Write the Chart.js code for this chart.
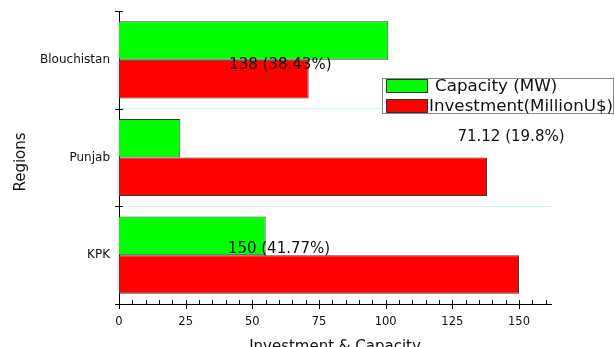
<!DOCTYPE html>
<html lang="en">
<head>
  <meta charset="UTF-8">
  <title>Investment &amp; Capacity by Region</title>
  <style>
    html, body {
      margin: 0;
      padding: 0;
      background: #ffffff;
      overflow: hidden;
    }
    #regionChart {
      display: block;
    }
  </style>
</head>
<body>
  <canvas id="regionChart" width="615" height="347"></canvas>

  <script src="https://cdn.jsdelivr.net/npm/chart.js"></script>
  <script>
    const regions = ['Blouchistan', 'Punjab', 'KPK'];
    const capacityMW = [101, 23, 55];
    const investmentMUSD = [71.12, 138, 150];
    const xTicks = [0, 25, 50, 75, 100, 125, 150];

    const FONT = '"DejaVu Sans", Verdana, sans-serif';
    const totalInvestment = investmentMUSD.reduce((a, b) => a + b, 0);

    function shareLabel(i) {
      const v = investmentMUSD[i];
      const pct = parseFloat((v / totalInvestment * 100).toFixed(2));
      return v + ' (' + pct + '%)';
    }

    // where each investment note sits: which value, which row, x in data units, offset from row centre
    const notes = [
      { src: 1, row: 0, x: 60.5, dy: 5 },
      { src: 0, row: 1, x: 147, dy: -20 },
      { src: 2, row: 2, x: 60, dy: -6 }
    ];

    // axis ticks, titles, value notes and the boxed legend
    const decorations = {
      id: 'decorations',
      afterDraw(chart) {
        const ctx = chart.ctx;
        const xs = chart.scales.x;
        const ys = chart.scales.y;
        const area = chart.chartArea;

        ctx.save();
        ctx.strokeStyle = '#000';
        ctx.lineWidth = 1;

        // x axis ticks every 5, longer ones at labelled values
        for (let v = 0; v <= xs.max; v += 5) {
          const px = Math.round(xs.getPixelForValue(v)) + 0.5;
          const major = v % 25 === 0;
          ctx.beginPath();
          ctx.moveTo(px, area.bottom - 4);
          ctx.lineTo(px, area.bottom + (major ? 5 : 0));
          ctx.stroke();
        }

        // y axis ticks at the category boundaries
        const step = (area.bottom - area.top) / regions.length;
        for (let i = 0; i <= regions.length; i++) {
          const py = Math.round(area.top + i * step) + 0.5;
          ctx.beginPath();
          ctx.moveTo(area.left - 4, py);
          ctx.lineTo(area.left + 4, py);
          ctx.stroke();
        }

        // value notes
        ctx.fillStyle = '#111';
        ctx.font = '15px ' + FONT;
        ctx.textAlign = 'center';
        ctx.textBaseline = 'middle';
        notes.forEach(n => {
          const px = xs.getPixelForValue(n.x);
          const py = ys.getPixelForValue(n.row) + n.dy;
          ctx.fillText(shareLabel(n.src), px, py);
        });

        // axis titles
        ctx.font = '15px ' + FONT;
        ctx.textBaseline = 'alphabetic';
        ctx.fillText('Investment & Capacity', 335, 351);
        ctx.save();
        ctx.translate(25, 162);
        ctx.rotate(-Math.PI / 2);
        ctx.fillText('Regions', 0, 0);
        ctx.restore();

        // legend box
        const lx = 382, ly = 78, lw = 232, lh = 36;
        ctx.fillStyle = '#ffffff';
        ctx.fillRect(lx, ly, lw, lh);
        ctx.strokeStyle = '#8a8a8a';
        ctx.strokeRect(lx + 0.5, ly + 0.5, lw - 1, lh - 1);
        const textX = [435, 429];
        ctx.textBaseline = 'middle';
        chart.data.datasets.forEach((ds, i) => {
          const sy = ly + 1 + i * 20;
          ctx.fillStyle = ds.backgroundColor;
          ctx.fillRect(386, sy, 42, 14);
          ctx.strokeStyle = '#333';
          ctx.strokeRect(386.5, sy + 0.5, 41, 13);
          ctx.fillStyle = '#111';
          ctx.font = '16.7px ' + FONT;
          ctx.textAlign = 'left';
          ctx.fillText(ds.label, textX[i], sy + 8);
        });
        ctx.restore();
      }
    };

    new Chart(document.getElementById('regionChart'), {
      type: 'bar',
      data: {
        labels: regions,
        datasets: [
          {
            label: 'Capacity (MW)',
            data: capacityMW,
            backgroundColor: '#00ff00',
            borderColor: '#3a3a3a',
            borderWidth: 1
          },
          {
            label: 'Investment(MillionU$)',
            data: investmentMUSD,
            backgroundColor: '#ff0000',
            borderColor: '#3a3a3a',
            borderWidth: 1
          }
        ]
      },
      options: {
        indexAxis: 'y',
        responsive: false,
        animation: false,
        events: [],
        categoryPercentage: 0.79,
        barPercentage: 1,
        layout: { padding: { top: 11, right: 64, left: 0, bottom: 0 } },
        plugins: {
          legend: { display: false },
          tooltip: { enabled: false }
        },
        scales: {
          x: {
            min: 0,
            max: 162,
            afterBuildTicks: scale => {
              scale.ticks = xTicks.map(v => ({ value: v }));
            },
            afterFit: scale => { scale.height = 43; },
            grid: { display: false },
            border: { display: true, color: '#000', width: 1 },
            ticks: {
              padding: 3,
              color: '#111',
              font: { family: FONT, size: 11.5 }
            }
          },
          y: {
            afterFit: scale => {
              scale.width = 119;
              scale.paddingTop = 0;
              scale.paddingBottom = 0;
            },
            grid: {
              offset: true,
              drawTicks: false,
              color: ctx => (ctx.index === 0 || ctx.index === regions.length) ? 'rgba(0,0,0,0)' : '#c6f3f8',
              lineWidth: 1
            },
            border: { display: true, color: '#000', width: 1 },
            ticks: {
              padding: 9,
              color: '#111',
              font: { family: FONT, size: 12 }
            }
          }
        }
      },
      plugins: [decorations]
    });
  </script>
</body>
</html>
